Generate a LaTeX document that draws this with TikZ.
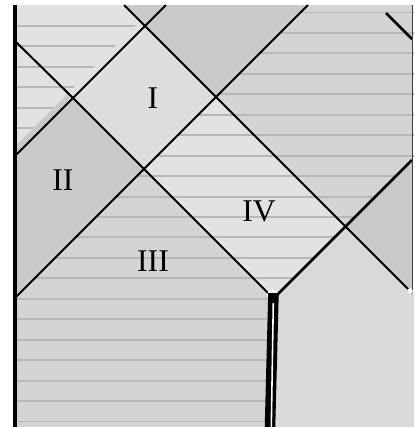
\documentclass[tikz,border=0pt]{standalone}
\usepackage{fontspec}
\setmainfont{Liberation Serif}
\usepackage{tikz}
\usepackage{xcolor}
\definecolor{palegray}{gray}{0.885}
\definecolor{litegray}{gray}{0.865}
\definecolor{basegray}{gray}{0.83}
\definecolor{midgray}{gray}{0.79}
\definecolor{floorgray}{gray}{0.85}
\definecolor{stripegray}{gray}{0.72}

\begin{document}
\begin{tikzpicture}[x=0.02cm,y=-0.02cm,line cap=butt,
  ray/.style={black,line width=1.15pt},
  stripe/.style={stripegray,line width=1.1pt},
  numeral/.style={font=\fontsize{18}{20}\selectfont}]
\useasboundingbox (0,0) rectangle (414,427);
\coordinate (A) at (73,98);
\coordinate (B) at (145,26);
\coordinate (C) at (216,97);
\coordinate (D) at (144,169);
\coordinate (E) at (273.5,298.5);
\coordinate (F) at (345.5,226.5);
% regions
\fill[palegray] (16,5) -- (124,5) -- (B) -- (A) -- (16,42) -- cycle;
\fill[midgray] (16,42) -- (A) -- (16,155) -- cycle;
\fill[midgray] (124,5) -- (166,5) -- (B) -- cycle;
\fill[midgray] (166,5) -- (308,5) -- (C) -- (B) -- cycle;
\fill[litegray] (A) -- (B) -- (C) -- (D) -- cycle;
\fill[midgray] (A) -- (D) -- (16,297) -- (16,155) -- cycle;
\fill[basegray] (308,5) -- (412,5) -- (412,160) -- (F) -- (C) -- cycle;
\fill[palegray] (C) -- (D) -- (E) -- (F) -- cycle;
\fill[basegray] (D) -- (E) -- (270,427) -- (16,427) -- (16,297) -- cycle;
\fill[midgray] (F) -- (412,160) -- (412,293) -- cycle;
\fill[floorgray] (E) -- (F) -- (412,293) -- (414,293) -- (414,427) -- (270,427) -- cycle;
\fill[palegray] (16,5) -- (124,5) -- (140,21) -- (16,145) -- cycle;
% stripes
\begin{scope}
\clip (16,5) -- (124,5) -- (140,21) -- (16,145) -- cycle;
\foreach \k in {0,...,5}
  \draw[stripe] (16,{26+20.45*\k}) -- ++(130,0);
\end{scope}
\begin{scope}
\clip (308,5) -- (414,5) -- (414,160) -- (F) -- (E) -- (270,427) -- (16,427) -- (16,297) -- cycle;
\foreach \k in {0,...,20}
  \draw[stripe] (16,{12.5+20.45*\k}) -- ++(400,0);
\end{scope}
% light cones
\draw[ray] (16,42) -- (A) -- (D) -- (E);
\draw[ray] (124,5) -- (B) -- (C) -- (F) -- (412,293);
\draw[ray] (16,155) -- (A) -- (B) -- (166,5);
\draw[ray] (16,297) -- (D) -- (C) -- (308,5);
\draw[ray,line width=1.6pt] (E) -- (F) -- (412,160);
\draw[ray,line width=1.6pt] (386,13) -- (412,39);
\draw[black!75,line width=0.6pt] (412.7,5) -- (412.7,292);
\draw[black,line width=2.8pt] (15,5) -- (15,427);
% singular seam
\fill[white] (272.5,295) circle (3.2pt);
\fill[white] (410,291) circle (1.6pt);
\draw[black,line width=6pt] (273.5,293) -- (270,427);
\draw[white,line width=0.9pt] (273.3,303) -- (271.3,427);
% labels
\node[numeral] (one) at (153,98) {I};
\node[numeral] (two) at (63,180) {II};
\node[numeral] (three) at (153,261) {III};
\node[numeral] (four) at (259,211) {IV};
\end{tikzpicture}
\end{document}
